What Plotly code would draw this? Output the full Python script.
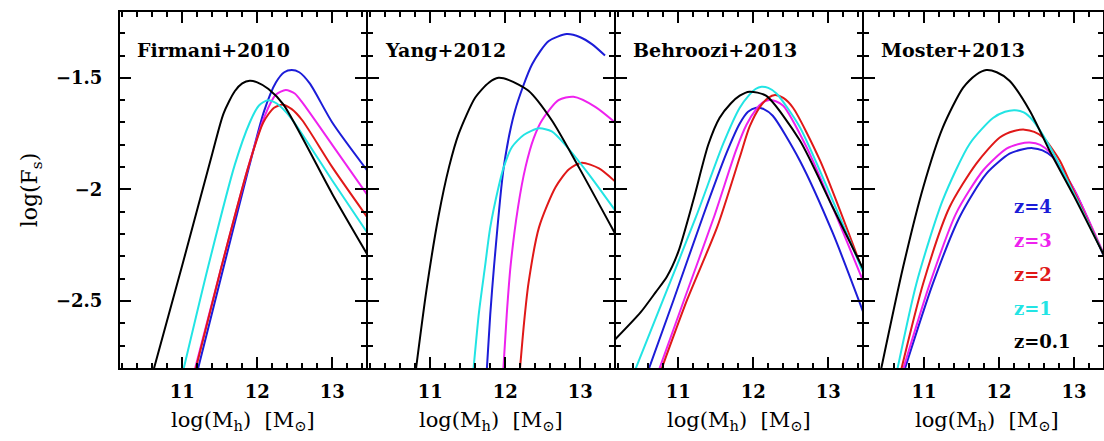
import plotly.graph_objects as go

# ---------------- data ----------------
panel_titles = ["Firmani+2010", "Yang+2012", "Behroozi+2013", "Moster+2013"]
z_labels = ["z=4", "z=3", "z=2", "z=1", "z=0.1"]
z_colors = ["#1c1cd8", "#ee22ee", "#e01818", "#22e4e4", "#000000"]
x_tickvals = [11, 12, 13]
y_tickvals = [-2.5, -2, -1.5]

# Firmani+2010
fir_z01_x = [10.60, 11.00, 11.40, 11.55, 11.70, 11.80, 11.90, 12.00, 12.15, 12.35, 13.00, 13.50]
fir_z01_y = [-2.83, -2.34, -1.84, -1.66, -1.56, -1.525, -1.513, -1.52, -1.55, -1.62, -2.02, -2.31]
fir_z1_x = [11.00, 11.35, 11.70, 11.90, 12.02, 12.14, 12.26, 12.45, 13.00, 13.50]
fir_z1_y = [-2.83, -2.34, -1.89, -1.70, -1.625, -1.60, -1.615, -1.68, -1.96, -2.21]
fir_z2_x = [11.16, 11.52, 11.88, 12.08, 12.22, 12.34, 12.46, 12.60, 13.00, 13.50]
fir_z2_y = [-2.83, -2.35, -1.90, -1.70, -1.635, -1.62, -1.64, -1.69, -1.90, -2.14]
fir_z3_x = [11.15, 11.52, 11.88, 12.10, 12.25, 12.38, 12.50, 12.60, 13.00, 13.50]
fir_z3_y = [-2.83, -2.35, -1.90, -1.67, -1.575, -1.555, -1.57, -1.61, -1.80, -2.04]
fir_z4_x = [11.19, 11.55, 11.89, 12.09, 12.25, 12.36, 12.46, 12.56, 12.70, 13.00, 13.50]
fir_z4_y = [-2.83, -2.35, -1.90, -1.65, -1.52, -1.475, -1.465, -1.475, -1.525, -1.70, -1.93]

# Yang+2012
yan_z01_x = [10.80, 10.95, 11.11, 11.25, 11.38, 11.60, 11.78, 11.91, 12.05, 12.31, 12.62, 12.98, 13.50]
yan_z01_y = [-2.83, -2.45, -2.12, -1.90, -1.75, -1.588, -1.522, -1.50, -1.51, -1.558, -1.69, -1.90, -2.22]
yan_z1_x = [11.57, 11.65, 11.73, 11.80, 11.91, 11.98, 12.09, 12.25, 12.45, 12.62, 12.80, 13.11, 13.50]
yan_z1_y = [-2.83, -2.55, -2.346, -2.17, -1.99, -1.90, -1.81, -1.755, -1.726, -1.74, -1.80, -1.93, -2.11]
yan_z2_x = [12.19, 12.25, 12.31, 12.45, 12.67, 12.85, 13.02, 13.25, 13.50]
yan_z2_y = [-2.83, -2.60, -2.42, -2.17, -1.99, -1.91, -1.88, -1.906, -1.975]
yan_z3_x = [11.97, 12.02, 12.07, 12.17, 12.27, 12.38, 12.49, 12.71, 12.91, 13.20, 13.50]
yan_z3_y = [-2.83, -2.56, -2.346, -2.08, -1.90, -1.77, -1.69, -1.60, -1.585, -1.63, -1.71]
yan_z4_x = [11.75, 11.80, 11.85, 11.98, 12.13, 12.36, 12.58, 12.82, 13.00, 13.16, 13.33]
yan_z4_y = [-2.83, -2.56, -2.346, -1.90, -1.647, -1.438, -1.335, -1.304, -1.318, -1.35, -1.40]

# Behroozi+2013
beh_z01_x = [10.15, 10.50, 10.70, 10.85, 11.00, 11.20, 11.40, 11.55, 11.70, 11.82, 11.95, 12.17, 12.62, 13.06, 13.50]
beh_z01_y = [-2.675, -2.55, -2.46, -2.39, -2.28, -2.05, -1.80, -1.68, -1.615, -1.58, -1.562, -1.58, -1.78, -2.08, -2.38]
beh_z1_x = [10.40, 10.80, 11.24, 11.60, 11.82, 11.95, 12.03, 12.11, 12.20, 12.31, 12.62, 13.06, 13.50]
beh_z1_y = [-2.83, -2.493, -2.12, -1.795, -1.634, -1.575, -1.55, -1.54, -1.545, -1.57, -1.72, -2.05, -2.40]
beh_z2_x = [10.75, 11.12, 11.52, 11.82, 11.95, 12.09, 12.20, 12.29, 12.40, 12.53, 12.89, 13.50]
beh_z2_y = [-2.83, -2.493, -2.168, -1.856, -1.72, -1.63, -1.59, -1.577, -1.59, -1.634, -1.87, -2.40]
beh_z3_x = [10.72, 11.08, 11.48, 11.77, 11.91, 12.04, 12.12, 12.20, 12.30, 12.40, 12.71, 13.06, 13.50]
beh_z3_y = [-2.83, -2.493, -2.12, -1.825, -1.71, -1.64, -1.612, -1.60, -1.605, -1.625, -1.81, -2.08, -2.44]
beh_z4_x = [10.58, 10.94, 11.33, 11.64, 11.82, 11.93, 12.04, 12.14, 12.26, 12.62, 13.06, 13.50]
beh_z4_y = [-2.83, -2.493, -2.12, -1.84, -1.705, -1.652, -1.634, -1.64, -1.67, -1.87, -2.195, -2.58]

# Moster+2013
mos_z01_x = [10.40, 10.72, 10.99, 11.25, 11.52, 11.70, 11.83, 11.97, 12.14, 12.41, 12.68, 13.00, 13.45]
mos_z01_y = [-2.85, -2.35, -1.99, -1.723, -1.545, -1.485, -1.465, -1.475, -1.513, -1.647, -1.83, -2.03, -2.33]
mos_z1_x = [10.63, 10.90, 11.25, 11.61, 11.92, 12.08, 12.21, 12.33, 12.45, 12.68, 13.00, 13.45]
mos_z1_y = [-2.83, -2.42, -2.048, -1.795, -1.68, -1.652, -1.645, -1.655, -1.69, -1.81, -2.02, -2.33]
mos_z2_x = [10.68, 10.99, 11.34, 11.70, 12.01, 12.20, 12.34, 12.47, 12.59, 12.81, 13.00, 13.45]
mos_z2_y = [-2.83, -2.42, -2.08, -1.883, -1.767, -1.738, -1.732, -1.742, -1.767, -1.87, -2.01, -2.33]
mos_z3_x = [10.70, 11.08, 11.43, 11.79, 12.10, 12.28, 12.41, 12.55, 12.68, 13.00, 13.45]
mos_z3_y = [-2.83, -2.42, -2.106, -1.914, -1.817, -1.795, -1.79, -1.80, -1.835, -2.00, -2.33]
mos_z4_x = [10.72, 11.12, 11.48, 11.83, 12.14, 12.32, 12.45, 12.58, 12.72, 13.00, 13.45]
mos_z4_y = [-2.83, -2.42, -2.12, -1.93, -1.84, -1.82, -1.815, -1.825, -1.856, -2.00, -2.34]

# order within each panel: z=4, z=3, z=2, z=1, z=0.1
panels = [
    [(fir_z4_x, fir_z4_y), (fir_z3_x, fir_z3_y), (fir_z2_x, fir_z2_y), (fir_z1_x, fir_z1_y), (fir_z01_x, fir_z01_y)],
    [(yan_z4_x, yan_z4_y), (yan_z3_x, yan_z3_y), (yan_z2_x, yan_z2_y), (yan_z1_x, yan_z1_y), (yan_z01_x, yan_z01_y)],
    [(beh_z4_x, beh_z4_y), (beh_z3_x, beh_z3_y), (beh_z2_x, beh_z2_y), (beh_z1_x, beh_z1_y), (beh_z01_x, beh_z01_y)],
    [(mos_z4_x, mos_z4_y), (mos_z3_x, mos_z3_y), (mos_z2_x, mos_z2_y), (mos_z1_x, mos_z1_y), (mos_z01_x, mos_z01_y)],
]

# ---------------- layout geometry ----------------
W, H = 1104, 441
ML, MR, MT, MB = 120, 0, 12, 73
PW = W - ML - MR
PH = H - MT - MB
# panel domains in pixels (2 px gaps so neighbouring border lines coincide)
dom_px = [(120, 366), (368, 614), (616, 862), (864, 1103)]
x_left = [10.17, 10.17, 10.17, 10.20]
px_per_unit = 75.0
y_range = [-2.8, -1.205]

FONT = "DejaVu Serif"

fig = go.Figure()
for i, series in enumerate(panels):
    xa = "x" if i == 0 else f"x{i+1}"
    ya = "y" if i == 0 else f"y{i+1}"
    for (xs, ys), col in zip(series, z_colors):
        fig.add_trace(go.Scatter(x=xs, y=ys, mode="lines", xaxis=xa, yaxis=ya,
                                 line=dict(color=col, width=2, shape="spline", smoothing=0.7),
                                 showlegend=False, hoverinfo="skip"))

layout = dict(width=W, height=H, margin=dict(l=ML, r=MR, t=MT, b=MB),
              paper_bgcolor="white", plot_bgcolor="white", showlegend=False,
              font=dict(family=FONT, size=18, color="black"))

for i in range(4):
    a, b = dom_px[i]
    d0 = (a - ML) / PW
    d1 = (b - ML) / PW
    xr = [x_left[i], x_left[i] + (b - a) / px_per_unit]
    xkey = "xaxis" if i == 0 else f"xaxis{i+1}"
    ykey = "yaxis" if i == 0 else f"yaxis{i+1}"
    layout[xkey] = dict(domain=[d0, min(d1, 1.0)], range=xr, anchor="y" if i == 0 else f"y{i+1}",
                        tickmode="array", tickvals=x_tickvals, ticktext=[str(v) for v in x_tickvals],
                        ticks="inside", ticklen=11, tickwidth=2, tickcolor="black",
                        minor=dict(dtick=0.2, tick0=10, ticks="inside", ticklen=5, tickwidth=2, tickcolor="black"),
                        showline=True, linewidth=2, linecolor="black", mirror="allticks",
                        showgrid=False, zeroline=False, ticklabelstandoff=6,
                        tickfont=dict(family=FONT, size=18, color="black", weight="bold"))
    ydict = dict(domain=[0, 1], range=y_range, anchor="x" if i == 0 else f"x{i+1}",
                 tickmode="array", tickvals=y_tickvals,
                 ticktext=["\u22122.5", "\u22122", "\u22121.5"],
                 showticklabels=(i == 0),
                 ticks="inside", ticklen=11, tickwidth=2, tickcolor="black",
                 minor=dict(dtick=0.1, tick0=0, ticks="inside", ticklen=5, tickwidth=2, tickcolor="black"),
                 showline=True, linewidth=2, linecolor="black", mirror="allticks",
                 showgrid=False, zeroline=False, ticklabelstandoff=12,
                 tickfont=dict(family=FONT, size=18, color="black", weight="bold"))
    if i == 0:
        ydict["title"] = dict(text="log(F<sub>s</sub>)", standoff=12,
                              font=dict(family=FONT, size=22, color="black"))
    layout[ykey] = ydict
fig.update_layout(**layout)

def px_to_paper(px, py):
    return (px - ML) / PW, (H - MB - py) / PH

ann = []
# panel titles
for i, t in enumerate(panel_titles):
    ax, ay = px_to_paper(dom_px[i][0] + 15, 50)
    ann.append(dict(text=t, x=ax, y=ay, xref="paper", yref="paper", xanchor="left", yanchor="middle",
                    showarrow=False, font=dict(family=FONT, size=19, color="black", weight="bold")))
# x titles
for i in range(4):
    cx = dom_px[i][0] + 123
    ax, ay = px_to_paper(cx, 421)
    ann.append(dict(text="log(M<sub>h</sub>)  [M<sub>\u2299</sub>]", x=ax, y=ay, xref="paper", yref="paper",
                    xanchor="center", yanchor="middle", showarrow=False,
                    font=dict(family=FONT, size=21, color="black")))
# redshift labels
label_y = [207, 240, 274, 308, 341]
for lab, col, py in zip(z_labels, z_colors, label_y):
    ax, ay = px_to_paper(1012, py)
    ann.append(dict(text=lab, x=ax, y=ay, xref="paper", yref="paper", xanchor="left", yanchor="middle",
                    showarrow=False, font=dict(family=FONT, size=18, color=col, weight="bold")))
fig.update_layout(annotations=ann)

fig.write_html("out.html")
